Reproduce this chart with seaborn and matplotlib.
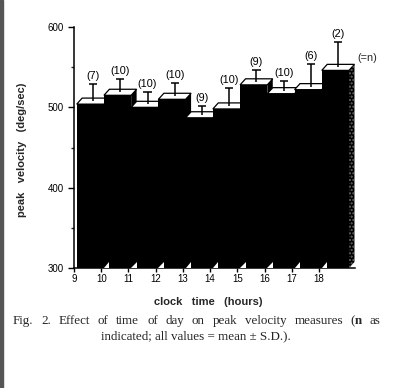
import numpy as np
import pandas as pd
import matplotlib
matplotlib.use("Agg")
import matplotlib.pyplot as plt
import seaborn as sns
from matplotlib.patches import Polygon, Rectangle

# ---- data ----
hours = [9, 10, 11, 12, 13, 14, 15, 16, 17, 18]
mean_velocity = [504, 515, 500, 510, 487, 498, 528, 517, 522, 546]
sd_velocity = [21.5, 16.5, 15.4, 16.6, 10.6, 22.9, 15.0, 11.9, 28.7, 32.0]
n_subjects = [7, 10, 10, 10, 9, 10, 9, 10, 6, 2]
y_major = [300, 400, 500, 600]
y_minor = [350, 450, 550]
caption_line1 = "Fig. 2. Effect of time of day on peak velocity measures (n as"
caption_line2 = "indicated; all values = mean \u00b1 S.D.)."

sns.set_theme(style="ticks")
plt.rcParams['font.family'] = ['Liberation Sans', 'DejaVu Sans']

W, H = 393, 388
fig = plt.figure(figsize=(W / 100, H / 100), dpi=100)
fig.patch.set_facecolor("white")
ax = fig.add_axes([74 / W, 120 / H, 281 / W, 241 / H])
ax.set_facecolor("white")

df = pd.DataFrame({"slot": [f"{h}-{h + 1}" for h in hours],
                   "velocity": mean_velocity})
sns.barplot(data=df, x="slot", y="velocity", color="black", width=1.0,
            saturation=1, errorbar=None, ax=ax, linewidth=0, zorder=3)

ax.set_ylim(300, 600)
ax.set_xlim(-0.6, 9.72)

dx, dy = 0.2, 7.5  # pseudo-3D depth offset (data units)
bars = list(ax.patches)
for i, p in enumerate(bars):
    x0 = p.get_x()
    x1 = x0 + p.get_width()
    v = p.get_height()
    # top face
    ax.add_patch(Polygon([(x0, v), (x1, v), (x1 + dx, v + dy), (x0 + dx, v + dy)],
                         closed=True, fc="white", ec="black", lw=0.9, zorder=2))
    # side face (visible part)
    vn = bars[i + 1].get_height() if i + 1 < len(bars) else 300
    if v > vn:
        last = i + 1 == len(bars)
        ax.add_patch(Polygon([(x1, vn), (x1 + dx, vn + dy), (x1 + dx, v + dy), (x1, v)],
                             closed=True, fc="black",
                             ec="#6a6a6a" if last else "black",
                             hatch="....." if last else None,
                             lw=0, zorder=4))
    # small white floor triangle at each bar junction
    if i + 1 < len(bars):
        ax.add_patch(Polygon([(x1, 300), (x1 + dx, 300), (x1 + dx, 300 + dy)],
                             closed=True, fc="white", ec="none", zorder=5))
    # error bar from centre of top face
    xc = (x0 + x1) / 2 + dx / 2
    base = v + dy / 2
    top = base + sd_velocity[i]
    ax.vlines(xc, base, top, color="black", lw=1.1, zorder=6)
    ax.hlines(top, xc - 0.15, xc + 0.15, color="black", lw=1.1, zorder=6)
    ax.text(xc, top + 3.5, f"({n_subjects[i]})", ha="center", va="bottom",
            fontsize=7.8, color="black", zorder=7)

fig.text(357 / W, 1 - 58 / H, "(=n)", ha="left", va="center", fontsize=7.8)

# axes styling
ax.set_yticks(y_major)
ax.set_yticks(y_minor, minor=True)
ax.set_yticklabels([str(t) for t in y_major])
ax.set_xticks(np.arange(len(hours)) - 0.6)
ax.set_xticklabels([str(h) for h in hours])
ax.tick_params(axis="y", which="major", length=4.5, width=1, direction="out",
               labelsize=7, pad=3, colors="black")
ax.tick_params(axis="y", which="minor", length=2.5, width=1, direction="out")
ax.tick_params(axis="x", which="major", length=3, width=1, direction="out",
               labelsize=7, pad=1.5, colors="black")
ax.set_xlabel("")
ax.set_ylabel("")
for s in ["top", "right"]:
    ax.spines[s].set_visible(False)
for s in ["left", "bottom"]:
    ax.spines[s].set_color("black")
    ax.spines[s].set_linewidth(1.1)

fig.text(22 / W, 1 - 150 / H, "peak   velocity   (deg/sec)", rotation=90,
         ha="center", va="center", fontsize=8, fontweight="bold")
fig.text(208 / W, 1 - 302 / H, "clock   time   (hours)",
         ha="center", va="center", fontsize=8, fontweight="bold")

# caption (line 1 justified)
cap_font = dict(family=["Liberation Serif", "DejaVu Serif"], fontsize=9.4)
fig.canvas.draw()
renderer = fig.canvas.get_renderer()
words = caption_line1.split()
xl, xr = 13, 380
y1 = 1 - 321 / H
widths = []
for w in words:
    t = fig.text(0, 0, w, **cap_font)
    widths.append(t.get_window_extent(renderer).width)
    t.remove()
gap = (xr - xl - sum(widths)) / (len(words) - 1)
x = xl
for w, wd in zip(words, widths):
    if w == "(n":
        t1 = fig.text(x / W, y1, "(", ha="left", va="center", **cap_font)
        w1 = t1.get_window_extent(renderer).width
        fig.text((x + w1) / W, y1, "n", ha="left", va="center",
                 fontweight="bold", **cap_font)
    else:
        fig.text(x / W, y1, w, ha="left", va="center", **cap_font)
    x += wd + gap
fig.text(196 / W, 1 - 336 / H, caption_line2, ha="center", va="center", **cap_font)

# grey scan edge at the left
fig.patches.append(Rectangle((0, 0), 2.5 / W, 1, transform=fig.transFigure,
                             color="#555555", zorder=10))

fig.savefig("out.png", dpi=100, facecolor="white")
